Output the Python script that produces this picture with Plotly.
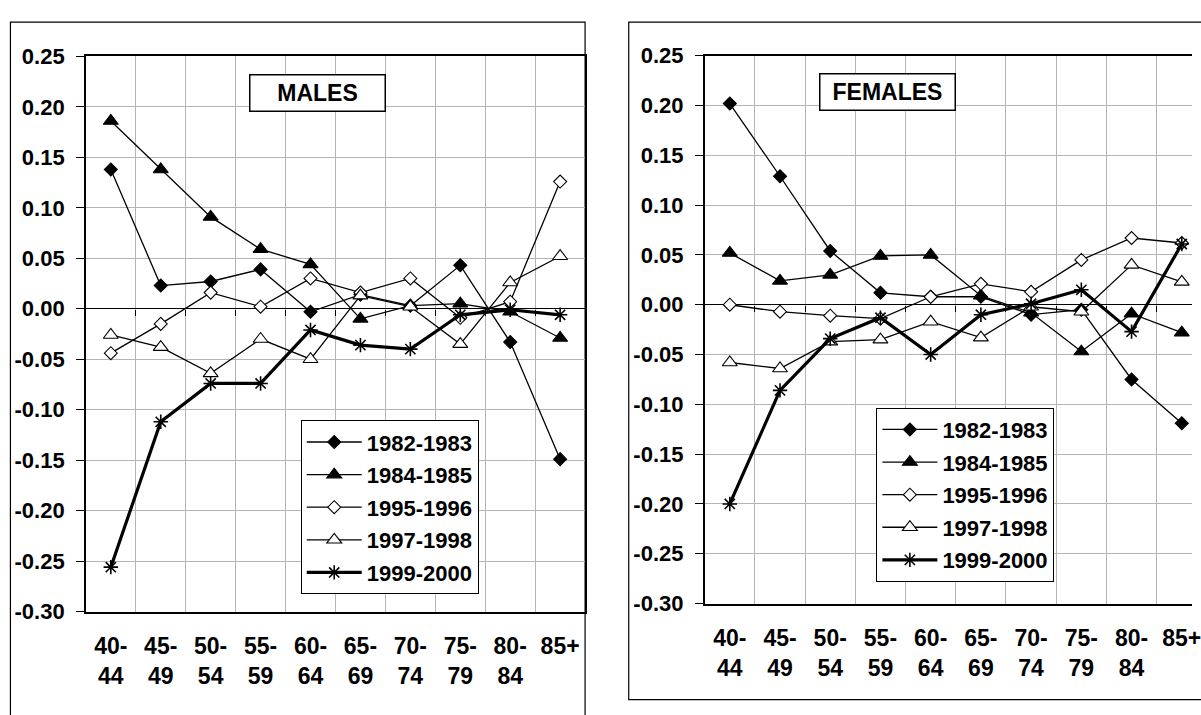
import plotly.graph_objects as go

# Age groups on the horizontal axis
age_groups = ["40-44", "45-49", "50-54", "55-59", "60-64",
              "65-69", "70-74", "75-79", "80-84", "85+"]
age_tick_labels = ["40-<br>44", "45-<br>49", "50-<br>54", "55-<br>59", "60-<br>64",
                   "65-<br>69", "70-<br>74", "75-<br>79", "80-<br>84", "85+"]

periods = ["1982-1983", "1984-1985", "1995-1996", "1997-1998", "1999-2000"]

# Males
males_1982_1983 = [0.138, 0.023, 0.027, 0.039, -0.003, 0.014, 0.003, 0.043, -0.033, -0.149]
males_1984_1985 = [0.186, 0.138, 0.091, 0.059, 0.044, -0.010, 0.003, 0.005, -0.003, -0.029]
males_1995_1996 = [-0.044, -0.015, 0.016, 0.002, 0.030, 0.016, 0.030, -0.009, 0.007, 0.126]
males_1997_1998 = [-0.026, -0.038, -0.064, -0.030, -0.050, 0.013, 0.002, -0.035, 0.026, 0.052]
males_1999_2000 = [-0.256, -0.112, -0.074, -0.074, -0.021, -0.036, -0.040, -0.006, -0.001, -0.006]

# Females
females_1982_1983 = [0.202, 0.129, 0.054, 0.012, 0.008, 0.008, -0.010, -0.005, -0.075, -0.119]
females_1984_1985 = [0.052, 0.024, 0.030, 0.049, 0.050, 0.009, -0.008, -0.047, -0.009, -0.028]
females_1995_1996 = [0.000, -0.007, -0.011, -0.014, 0.008, 0.021, 0.013, 0.045, 0.067, 0.062]
females_1997_1998 = [-0.058, -0.064, -0.037, -0.035, -0.017, -0.033, -0.002, -0.007, 0.040, 0.023]
females_1999_2000 = [-0.200, -0.086, -0.034, -0.013, -0.050, -0.010, 0.001, 0.015, -0.027, 0.061]

y_ticks = [-0.30, -0.25, -0.20, -0.15, -0.10, -0.05, 0.00, 0.05, 0.10, 0.15, 0.20, 0.25]
y_tick_labels = ["-0.30", "-0.25", "-0.20", "-0.15", "-0.10", "-0.05",
                 "0.00", "0.05", "0.10", "0.15", "0.20", "0.25"]

males = [males_1982_1983, males_1984_1985, males_1995_1996, males_1997_1998, males_1999_2000]
females = [females_1982_1983, females_1984_1985, females_1995_1996, females_1997_1998, females_1999_2000]

W, H = 1201, 715
FONT = "Liberation Sans, Arial, sans-serif"
GRID = "#b4b4b4"

series_style = {
    "1982-1983": dict(symbol="diamond", fill="black", size=10, lw=1.3),
    "1984-1985": dict(symbol="triangle-up", fill="black", size=13, lw=1.3),
    "1995-1996": dict(symbol="diamond", fill="white", size=10, lw=1.3),
    "1997-1998": dict(symbol="triangle-up", fill="white", size=13, lw=1.3),
    "1999-2000": dict(symbol="asterisk-open", fill="black", size=12, lw=3.2),
}

x_idx = list(range(len(age_groups)))
boundaries = [i + 0.5 for i in x_idx[:-1]]

fig = go.Figure()


def add_panel(values, xa, ya, legend_name):
    for name, vals in zip(periods, values):
        st = series_style[name]
        fig.add_trace(go.Scatter(
            x=x_idx, y=vals, name=name, mode="lines+markers",
            xaxis=xa, yaxis=ya, legend=legend_name, legendgroup=legend_name + name,
            line=dict(color="black", width=st["lw"]),
            marker=dict(symbol=st["symbol"], size=st["size"], color=st["fill"],
                        line=dict(color="black", width=1.6 if "asterisk" in st["symbol"] else 1.1)),
            customdata=age_groups,
            hovertemplate="%{customdata}: %{y:.3f}<extra>" + name + "</extra>",
        ))


add_panel(males, "x", "y", "legend")
add_panel(females, "x2", "y2", "legend2")

# empty traces so the zero-line tick axes get their own subplots
fig.add_trace(go.Scatter(x=[], y=[], xaxis="x3", yaxis="y", showlegend=False, hoverinfo="skip"))
fig.add_trace(go.Scatter(x=[], y=[], xaxis="x4", yaxis="y2", showlegend=False, hoverinfo="skip"))

# panel geometry (pixels)
L = dict(x0=86.5, x1=589.5, top=46.0, bottom=621.3)
R = dict(x0=710.0, x1=1201.0, top=45.3, bottom=613.0)
cat_px_right = 50.6
y_lo, y_hi = -0.30, 0.25


def dom_x(p):
    return [p["x0"] / W, p["x1"] / W]


def dom_y(p):
    return [1 - p["bottom"] / H, 1 - p["top"] / H]


def zero_pos(p):
    d = dom_y(p)
    return d[0] + (0 - y_lo) / (y_hi - y_lo) * (d[1] - d[0])


right_range = [-0.5, -0.5 + (R["x1"] - R["x0"]) / cat_px_right]

tick_font = dict(family=FONT, size=23, color="black", weight="bold")
ytick_font = dict(family=FONT, size=22, color="black", weight="bold")


def x_axis(p, rng):
    return dict(
        domain=dom_x(p), range=rng, showgrid=False, zeroline=False,
        tickmode="array", tickvals=x_idx, ticktext=age_tick_labels,
        tickfont=tick_font, ticks="", ticklabelstandoff=13,
        ticklabeloverflow="allow",
        showline=True, linecolor="black", linewidth=1.5, mirror=True,
        minor=dict(tickmode="array", tickvals=boundaries, showgrid=True,
                   gridcolor=GRID, gridwidth=1, ticks=""),
        fixedrange=True,
    )


def y_axis(p, mirror):
    return dict(
        domain=dom_y(p), range=[y_lo, y_hi], tickmode="array",
        tickvals=y_ticks, ticktext=y_tick_labels, tickfont=ytick_font,
        ticks="outside", ticklen=8, tickcolor="black", tickwidth=1,
        ticklabelstandoff=7,
        showline=True, linecolor="black", linewidth=1.5, mirror=mirror,
        showgrid=True, gridcolor=GRID, gridwidth=1,
        zeroline=True, zerolinecolor="black", zerolinewidth=1.3,
        fixedrange=True,
    )


def zero_tick_axis(p, rng, over, anchor_pos):
    return dict(
        overlaying=over, anchor="free", position=anchor_pos, range=rng,
        tickmode="array", tickvals=boundaries, ticks="outside", ticklen=6,
        tickcolor="black", tickwidth=1.3, showticklabels=False, showgrid=False,
        showline=False, zeroline=False, fixedrange=True,
    )


legend_common = dict(
    xanchor="left", yanchor="top", bordercolor="black", borderwidth=1,
    bgcolor="white", font=dict(family=FONT, size=22, color="black", weight="bold"),
    itemwidth=55, traceorder="grouped", tracegroupgap=1, itemclick=False,
    itemdoubleclick=False,
)

title_font = dict(family=FONT, size=23, color="black", weight="bold")

fig.update_layout(
    width=W, height=H, margin=dict(l=0, r=0, t=0, b=0),
    paper_bgcolor="white", plot_bgcolor="white", showlegend=True,
    font=dict(family=FONT, color="black"),
    xaxis=x_axis(L, [-0.5, 9.5]),
    yaxis=y_axis(L, True),
    xaxis2=dict(x_axis(R, right_range), anchor="y2"),
    yaxis2=dict(y_axis(R, False), anchor="x2"),
    xaxis3=zero_tick_axis(L, [-0.5, 9.5], "x", zero_pos(L)),
    xaxis4=zero_tick_axis(R, right_range, "x2", zero_pos(R)),
    legend=dict(legend_common, x=303 / W, y=1 - 423 / H),
    legend2=dict(legend_common, x=883 / W, y=1 - 410 / H),
    annotations=[
        dict(text="MALES", xref="paper", yref="paper", x=319.5 / W, y=1 - 84 / H,
             xanchor="center", yanchor="middle", showarrow=False, width=134, height=35,
             bordercolor="black", borderwidth=1.5, borderpad=0, bgcolor="white",
             font=title_font),
        dict(text="FEMALES", xref="paper", yref="paper", x=894.7 / W, y=1 - 82.5 / H,
             xanchor="center", yanchor="middle", showarrow=False, width=134, height=35,
             bordercolor="black", borderwidth=1.5, borderpad=0, bgcolor="white",
             font=title_font),
    ],
    shapes=[
        dict(type="rect", xref="paper", yref="paper", x0=10.5 / W, x1=589.5 / W,
             y0=-0.05, y1=1 - 10.5 / H, line=dict(color="black", width=1.2), layer="below"),
        dict(type="rect", xref="paper", yref="paper", x0=633.5 / W, x1=1.05,
             y0=1 - 712.5 / H, y1=1 - 10.5 / H, line=dict(color="black", width=1.2), layer="below"),
    ],
)

fig.write_html("out.html")
